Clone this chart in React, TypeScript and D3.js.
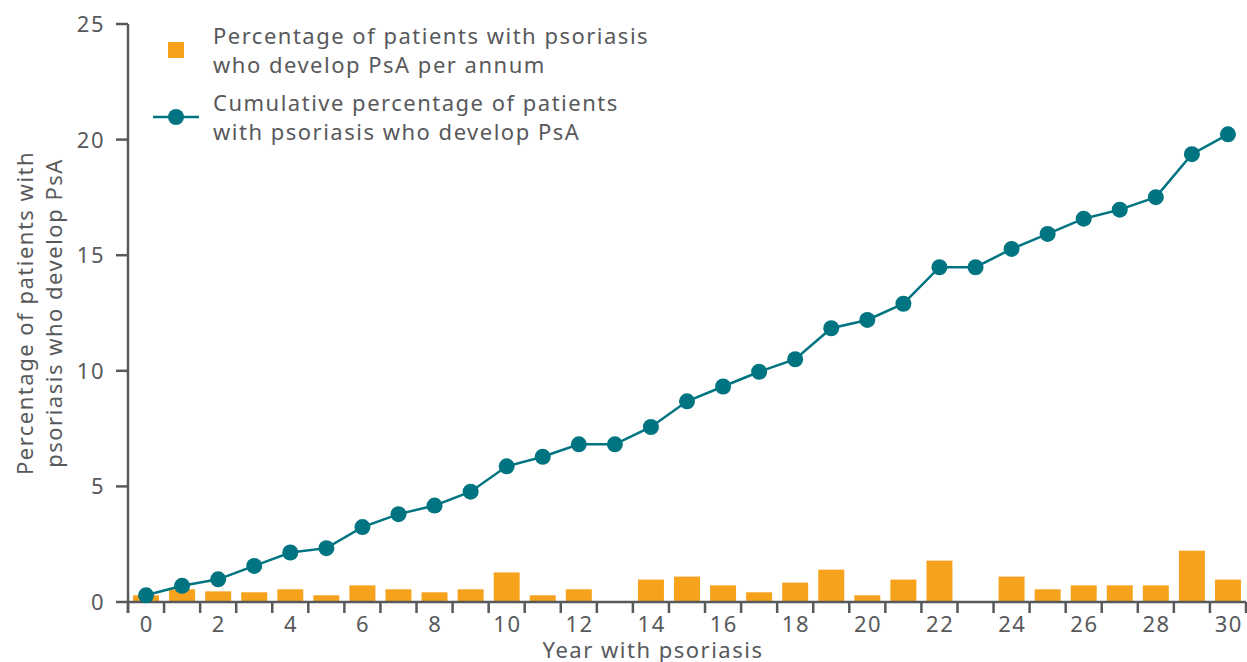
import React from "react";
import * as d3 from "d3";

const years = d3.range(0, 31);
const perAnnum = [
  0.29, 0.55, 0.46, 0.42, 0.55, 0.29, 0.72, 0.55, 0.42, 0.55, 1.28, 0.29, 0.55, 0,
  0.97, 1.1, 0.72, 0.42, 0.84, 1.4, 0.29, 0.97, 1.79, 0, 1.1, 0.55, 0.72, 0.72,
  0.72, 2.22, 0.97,
];
const cumulative = [
  0.29, 0.7, 0.98, 1.56, 2.14, 2.33, 3.24, 3.8, 4.17, 4.77, 5.87, 6.28, 6.82, 6.82,
  7.57, 8.68, 9.32, 9.96, 10.5, 11.84, 12.2, 12.9, 14.48, 14.48, 15.27, 15.92,
  16.58, 16.97, 17.51, 19.37, 20.23,
];
const yTicks = [0, 5, 10, 15, 20, 25];
const xLabelYears = years.filter((y) => y % 2 === 0);

const ORANGE = "#f7a21d";
const TEAL = "#007480";
const GREY = "#58595b";
const FONT = "'Noto Sans', sans-serif";

export default function App() {
  const width = 1247;
  const height = 662;
  const margin = { top: 24, right: 1, bottom: 60, left: 128 };

  const x = d3
    .scaleBand<number>()
    .domain(years)
    .range([margin.left, width - margin.right])
    .paddingInner(0.28)
    .paddingOuter(0.14);
  const step = (width - margin.right - margin.left) / years.length;
  const xc = (d: number) => (x(d) as number) + x.bandwidth() / 2;
  const y = d3.scaleLinear().domain([0, 25]).range([602, margin.top]);

  const line = d3
    .line<number>()
    .x((_, i) => xc(years[i]))
    .y((d) => y(d));

  return (
    <svg
      width={width}
      height={height}
      style={{ position: "absolute", left: 0, top: 0, background: "#fff" }}
      fontFamily={FONT}
      letterSpacing={1.5}
    >
      {/* bars */}
      {years.map((yr, i) => (
        <rect
          key={yr}
          x={x(yr)}
          y={y(perAnnum[i])}
          width={x.bandwidth()}
          height={y(0) - y(perAnnum[i])}
          fill={ORANGE}
        />
      ))}

      {/* y axis */}
      <line x1={margin.left} x2={margin.left} y1={y(25)} y2={613} stroke={GREY} strokeWidth={2.5} />
      {yTicks.map((t) => (
        <g key={t}>
          <line x1={116} x2={margin.left} y1={y(t)} y2={y(t)} stroke={GREY} strokeWidth={2.5} />
          <text x={105} y={y(t)} dy="0.36em" textAnchor="end" fontSize={22} fill={GREY}>
            {t}
          </text>
        </g>
      ))}

      {/* x axis */}
      <line x1={margin.left} x2={width - margin.right} y1={y(0)} y2={y(0)} stroke={GREY} strokeWidth={2.5} />
      {d3.range(0, years.length + 1).map((k) => {
        const px = margin.left + k * step;
        return (
          <line key={k} x1={px} x2={px} y1={y(0)} y2={613} stroke={GREY} strokeWidth={2.5} />
        );
      })}
      {xLabelYears.map((yr) => (
        <text key={yr} x={xc(yr) + 0.75} y={632} textAnchor="middle" fontSize={22} fill={GREY}>
          {yr}
        </text>
      ))}
      <text x={653} y={658} textAnchor="middle" fontSize={22} fill={GREY}>
        Year with psoriasis
      </text>

      {/* y title */}
      <g transform="translate(33,313) rotate(-90)">
        <text x={0} y={0} textAnchor="middle" fontSize={22} fill={GREY}>
          Percentage of patients with
        </text>
        <text x={0} y={29} textAnchor="middle" fontSize={22} fill={GREY}>
          psoriasis who develop PsA
        </text>
      </g>

      {/* cumulative line */}
      <path d={line(cumulative) ?? ""} fill="none" stroke={TEAL} strokeWidth={2.5} />
      {cumulative.map((v, i) => (
        <circle key={i} cx={xc(years[i])} cy={y(v)} r={8} fill={TEAL} />
      ))}

      {/* legend */}
      <rect x={168} y={42} width={16} height={16} fill={ORANGE} />
      <text x={213} y={44} fontSize={22} fill={GREY}>
        Percentage of patients with psoriasis
      </text>
      <text x={213} y={73} fontSize={22} fill={GREY}>
        who develop PsA per annum
      </text>
      <line x1={153} x2={199} y1={117} y2={117} stroke={TEAL} strokeWidth={2.5} />
      <circle cx={176} cy={117} r={8} fill={TEAL} />
      <text x={213} y={111} fontSize={22} fill={GREY}>
        Cumulative percentage of patients
      </text>
      <text x={213} y={140} fontSize={22} fill={GREY}>
        with psoriasis who develop PsA
      </text>
    </svg>
  );
}
